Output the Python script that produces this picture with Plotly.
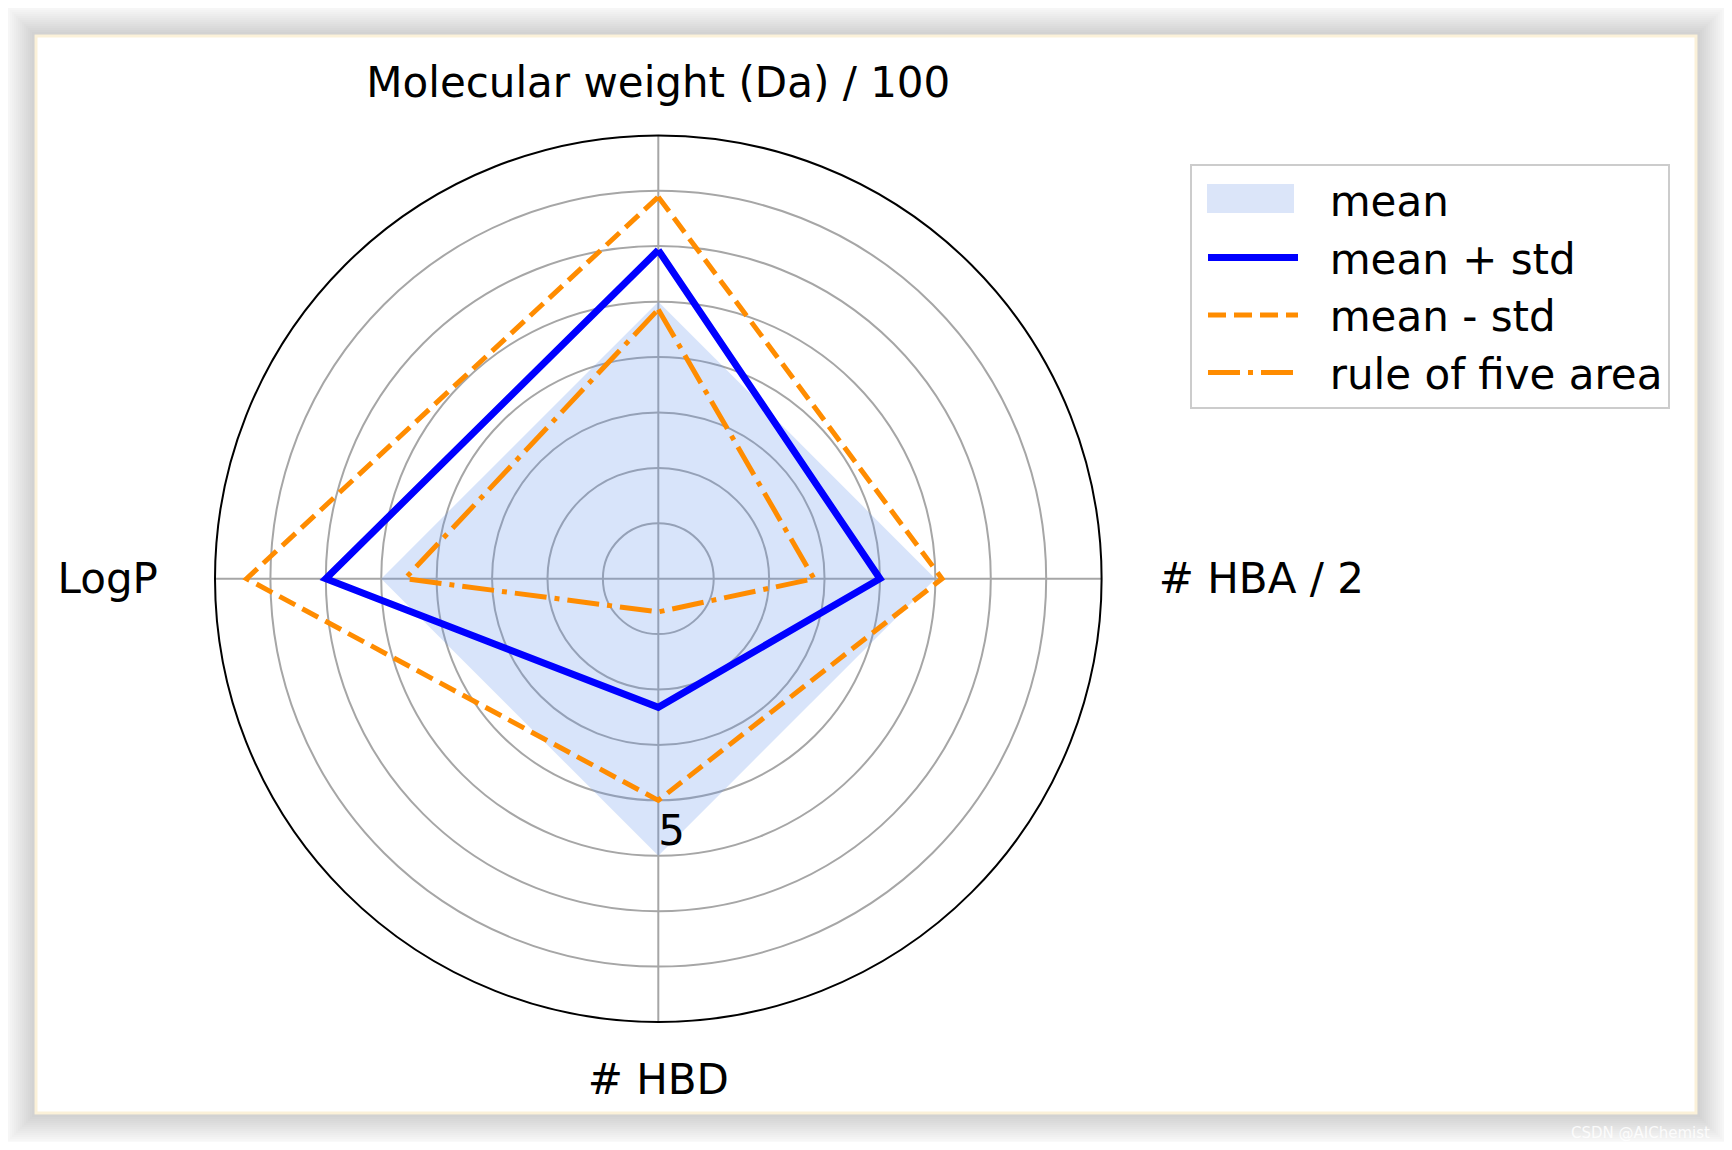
import plotly.graph_objects as go

# ---- data ----
categories = ["Molecular weight (Da) / 100", "# HBA / 2", "# HBD", "LogP"]
mean_vals = [5.0, 5.0, 5.0, 5.0]
mean_plus_std = [5.93, 4.0, 2.32, 6.0]
mean_minus_std = [6.89, 5.12, 4.0, 7.43]
rule_of_five = [4.86, 2.81, 0.6, 4.57]
r_tickvals = [1, 2, 3, 4, 5, 6, 7]
r_label_value = 5
r_label_text = "5"
series_names = ["mean", "mean + std", "mean - std", "rule of five area"]

# page body has an 8px margin -> figure is drawn 8px in from the window edge
OFF = 8
W, H = 1732 - 2 * OFF, 1150 - 2 * OFF
FONT = "DejaVu Sans"
NB = "\u00a0"
FILL_RGBA = "rgba(100,149,237,0.25)"
FILL_SOLID = "#dbe5f9"


def closed(v):
    return list(v) + [v[0]]


def fx(px):
    return (px - OFF) / W


def fy(py):
    return 1 - (py - OFF) / H


theta = closed(categories)
legend_names = [NB + NB + n for n in series_names]
angular_ticktext = [categories[0], NB + NB + categories[1], categories[2],
                    categories[3] + NB + NB]

fig = go.Figure()
fig.add_trace(go.Scatterpolar(
    r=closed(mean_vals), theta=theta, name=legend_names[0], mode="lines",
    fill="toself", fillcolor=FILL_RGBA, showlegend=False,
    legendgroup="mean", hoverinfo="skip",
    line=dict(width=0, color=FILL_RGBA)))
# legend entry for the filled area (its key is drawn as a patch shape below)
fig.add_trace(go.Scatterpolar(
    r=[None], theta=[None], name=legend_names[0], mode="lines",
    legendgroup="mean", line=dict(width=10, color="rgba(0,0,0,0)")))
fig.add_trace(go.Scatterpolar(
    r=closed(mean_plus_std), theta=theta, name=legend_names[1], mode="lines",
    line=dict(color="#0000ff", width=7)))
fig.add_trace(go.Scatterpolar(
    r=closed(mean_minus_std), theta=theta, name=legend_names[2], mode="lines",
    line=dict(color="#ff8c00", width=5, dash="18px,8px")))
fig.add_trace(go.Scatterpolar(
    r=closed(rule_of_five), theta=theta, name=legend_names[3], mode="lines",
    line=dict(color="#ff8c00", width=5, dash="32px,8px,5px,8px")))
# radial tick label
fig.add_trace(go.Scatterpolar(
    r=[r_label_value], theta=[categories[2]], mode="text", text=[r_label_text],
    textposition="top right", showlegend=False, hoverinfo="skip",
    textfont=dict(family=FONT, size=42, color="black")))

# card + soft shadow (decoration)
cx0, cx1, cy0, cy1 = 36, 1696, 36, 1113
shapes = []
for k in range(32, 0, -2):
    shapes.append(dict(type="rect", xref="paper", yref="paper", layer="below",
                       x0=fx(cx0 - k), x1=fx(cx1 + k),
                       y0=fy(cy1 + k), y1=fy(cy0 - k),
                       fillcolor="rgba(0,0,0,0.012)", line=dict(width=0)))
shapes.append(dict(type="rect", xref="paper", yref="paper", layer="below",
                   x0=fx(cx0), x1=fx(cx1), y0=fy(cy1), y1=fy(cy0),
                   fillcolor="white", line=dict(width=3, color="#fbf1d9")))
# matplotlib-style patch as the legend key of the filled area
shapes.append(dict(type="rect", xref="paper", yref="paper", layer="above",
                   x0=fx(1207), x1=fx(1294), y0=fy(213), y1=fy(184),
                   fillcolor=FILL_SOLID, line=dict(width=0)))

# polar geometry (window px): centre (658.3, 578.7), radius 443.3
pcx, pcy, prad = 658.3, 578.7, 443.3

fig.update_layout(
    width=W, height=H,
    margin=dict(l=0, r=0, t=0, b=0),
    paper_bgcolor="white",
    font=dict(family=FONT, size=42, color="black"),
    showlegend=True,
    shapes=shapes,
    polar=dict(
        domain=dict(x=[fx(pcx - prad), fx(pcx + prad)],
                    y=[fy(pcy + prad), fy(pcy - prad)]),
        bgcolor="rgba(0,0,0,0)",
        angularaxis=dict(
            type="category", rotation=90, direction="clockwise",
            tickmode="array", tickvals=categories, ticktext=angular_ticktext,
            showline=True, linecolor="black", linewidth=2,
            showgrid=True, gridcolor="#a6a6a6", gridwidth=1.6,
            ticks="outside", ticklen=21, tickcolor="rgba(0,0,0,0)",
            tickfont=dict(family=FONT, size=42, color="black")),
        radialaxis=dict(
            range=[0, 8], tickvals=r_tickvals, showticklabels=False,
            showline=False, showgrid=True, gridcolor="#a6a6a6", gridwidth=1.6,
            ticks=""),
    ),
    legend=dict(
        x=fx(1190), y=fy(164), xanchor="left", yanchor="top",
        bgcolor="rgba(0,0,0,0)", bordercolor="#cccccc", borderwidth=2,
        font=dict(family=FONT, size=42, color="black"),
        itemwidth=90, indentation=11, tracegroupgap=0),
    annotations=[dict(text="CSDN @AIChemist", xref="paper", yref="paper",
                      x=fx(1640), y=fy(1133), xanchor="center", yanchor="middle",
                      showarrow=False,
                      font=dict(family=FONT, size=15, color="rgba(255,255,255,0.85)"))],
)

fig.write_html("out.html")
